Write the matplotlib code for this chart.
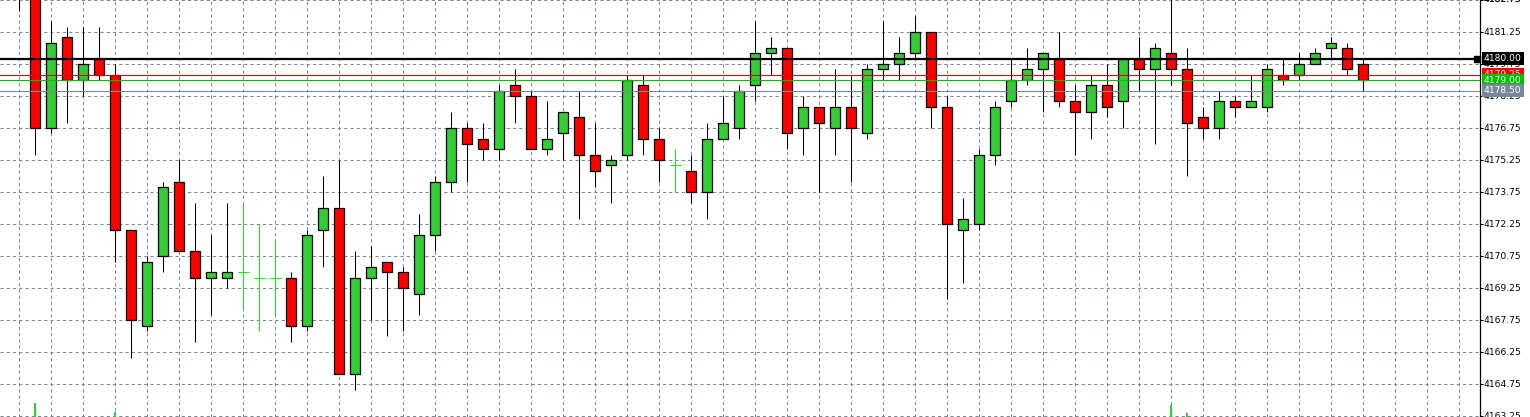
import numpy as np
import matplotlib
matplotlib.use('Agg')
import matplotlib.pyplot as plt

# OHLC candles (index 0 is the leftmost bar)
opens = [4183.25, 4183.0, 4176.75, 4181.0, 4179.0, 4180.0, 4179.25, 4172.0, 4167.5, 4170.75,
         4174.25, 4171.0, 4169.75, 4169.75, 4170.0, 4169.75, 4169.75, 4169.75, 4167.5, 4172.0,
         4173.0, 4165.25, 4169.75, 4170.5, 4170.0, 4169.0, 4171.75, 4174.25, 4176.75, 4176.25,
         4175.75, 4178.75, 4178.25, 4175.75, 4176.5, 4177.25, 4175.5, 4175.0, 4175.5, 4178.75,
         4176.25, 4175.0, 4174.75, 4173.75, 4176.25, 4176.75, 4178.75, 4180.25, 4180.5, 4176.75,
         4177.75, 4176.75, 4177.75, 4176.5, 4179.5, 4179.75, 4180.25, 4181.25, 4177.75, 4172.0,
         4172.25, 4175.5, 4178.0, 4179.0, 4179.5, 4180.0, 4178.0, 4177.5, 4178.75, 4178.0,
         4180.0, 4179.5, 4180.25, 4179.5, 4177.25, 4176.75, 4178.0, 4177.75, 4177.75, 4179.25,
         4179.25, 4179.75, 4180.5, 4180.5, 4179.75]
highs = [4183.5, 4183.5, 4181.75, 4181.5, 4181.5, 4181.5, 4179.75, 4172.0, 4170.75, 4174.25,
         4175.25, 4173.25, 4171.75, 4173.25, 4173.25, 4172.25, 4171.5, 4170.0, 4172.0, 4174.5,
         4175.25, 4171.0, 4171.25, 4170.5, 4170.25, 4172.75, 4174.5, 4177.5, 4177.0, 4177.0,
         4178.75, 4179.5, 4178.5, 4178.0, 4177.5, 4178.5, 4177.0, 4175.5, 4179.25, 4179.25,
         4176.75, 4175.75, 4175.5, 4177.0, 4178.25, 4178.75, 4181.75, 4181.0, 4180.5, 4178.25,
         4177.75, 4179.5, 4179.25, 4179.75, 4181.75, 4181.0, 4182.0, 4181.25, 4178.25, 4173.5,
         4175.75, 4178.0, 4180.0, 4180.5, 4180.25, 4181.25, 4178.75, 4179.25, 4179.75, 4180.0,
         4181.0, 4180.75, 4183.0, 4180.5, 4177.75, 4178.5, 4178.25, 4179.25, 4179.75, 4180.0,
         4180.25, 4180.5, 4181.0, 4180.75, 4180.0]
lows = [4182.25, 4175.5, 4176.5, 4177.0, 4178.25, 4179.0, 4170.5, 4166.0, 4167.25, 4170.0,
        4171.0, 4166.75, 4168.0, 4169.25, 4168.25, 4167.25, 4168.0, 4166.75, 4167.25, 4170.25,
        4165.25, 4164.5, 4167.75, 4167.0, 4167.25, 4168.0, 4171.0, 4173.75, 4174.25, 4175.25,
        4175.25, 4177.0, 4175.75, 4175.5, 4175.25, 4172.5, 4174.0, 4173.25, 4175.25, 4175.5,
        4174.25, 4173.75, 4173.25, 4172.5, 4176.25, 4176.25, 4178.0, 4179.25, 4175.75, 4175.5,
        4173.75, 4175.5, 4174.25, 4176.25, 4179.0, 4179.0, 4180.0, 4176.75, 4168.75, 4169.5,
        4172.0, 4175.0, 4177.75, 4178.75, 4177.5, 4177.75, 4175.5, 4176.25, 4177.25, 4176.75,
        4178.5, 4176.0, 4178.75, 4174.5, 4176.25, 4176.25, 4177.25, 4177.75, 4177.5, 4178.75,
        4179.0, 4179.75, 4180.0, 4179.25, 4178.5]
closes = [4183.0, 4176.75, 4180.75, 4179.0, 4179.75, 4179.25, 4172.0, 4167.75, 4170.5, 4174.0,
          4171.0, 4169.75, 4170.0, 4170.0, 4170.0, 4169.75, 4169.75, 4167.5, 4171.75, 4173.0,
          4165.25, 4169.75, 4170.25, 4170.0, 4169.25, 4171.75, 4174.25, 4176.75, 4176.0, 4175.75,
          4178.5, 4178.25, 4175.75, 4176.25, 4177.5, 4175.5, 4174.75, 4175.25, 4179.0, 4176.25,
          4175.25, 4175.0, 4173.75, 4176.25, 4177.0, 4178.5, 4180.25, 4180.5, 4176.5, 4177.75,
          4177.0, 4177.75, 4176.75, 4179.5, 4179.75, 4180.25, 4181.25, 4177.75, 4172.25, 4172.5,
          4175.5, 4177.75, 4179.0, 4179.5, 4180.25, 4178.0, 4177.5, 4178.75, 4177.75, 4180.0,
          4179.5, 4180.5, 4179.5, 4177.0, 4176.75, 4178.0, 4177.75, 4178.0, 4179.5, 4179.0,
          4179.75, 4180.25, 4180.75, 4179.5, 4179.0]

# small volume spikes in the bottom strip
vol_idx = [1, 6, 72, 73]
vol = [14, 5, 12, 4]

# horizontal price levels
hline_price = 4180.00
ask_price = 4179.25
bid_price = 4179.00
low_price = 4178.50

yticks = np.arange(4163.25, 4183.0, 1.5)

up_col = '#32CD32'
dn_col = '#FF0000'
doji_col = '#00FF00'
grid_col = '#778899'

fig = plt.figure(figsize=(15.3, 4.17), dpi=100)
ax = fig.add_axes([0, 0, 1480 / 1530, 1])
ax.set_xlim(-1.206, 91.29)
ax.set_ylim(4163.222, 4182.663)

x = np.arange(len(opens))
o = np.array(opens)
h = np.array(highs)
l = np.array(lows)
c = np.array(closes)

doji = o == c
up = (c > o)
dn = (c < o)

# wicks
ax.vlines(x[~doji], l[~doji], h[~doji], color='black', linewidth=0.75, zorder=2)
ax.vlines(x[doji], l[doji], h[doji], color=doji_col, linewidth=0.75, zorder=2)
ax.hlines(o[doji], x[doji] - 0.33, x[doji] + 0.33, color=doji_col, linewidth=0.75, zorder=2)

# bodies
w = 0.625
ax.bar(x[up], (c - o)[up], bottom=o[up], width=w, color=up_col,
       edgecolor='black', linewidth=0.9, zorder=3)
ax.bar(x[dn], (o - c)[dn], bottom=c[dn], width=w, color=dn_col,
       edgecolor='black', linewidth=0.9, zorder=3)

# level lines
ax.axhline(hline_price, color='black', linewidth=1.6, zorder=5)
ax.axhline(ask_price, color='#E00000', linewidth=0.75, zorder=5)
ax.axhline(bid_price, color='#00C000', linewidth=0.75, zorder=5)
ax.axhline(low_price, color=grid_col, linewidth=0.75, zorder=5)
ax.plot([1 - 3.5 / 1480], [hline_price], marker='s', markersize=5, color='black',
        transform=ax.get_yaxis_transform(), clip_on=False, zorder=6)

# grid
ax.set_yticks(yticks)
ax.set_xticks(np.arange(0, 92, 2))
ax.grid(True, color=grid_col, linestyle=(0, (3, 3)), linewidth=0.75, zorder=0)
ax.set_axisbelow(True)
ax.tick_params(axis='x', length=0, labelbottom=False)
ax.tick_params(axis='y', left=False, right=True, labelleft=False, labelright=False,
               length=2.5, width=0.75, color='black', direction='out')
for s in ['top', 'left', 'bottom']:
    ax.spines[s].set_visible(False)
ax.spines['right'].set_linewidth(0.9)

# price labels on the right
tr = ax.get_yaxis_transform()
for p in list(yticks) + [4182.75]:
    ax.text(1.0027, p, '%.2f' % p, transform=tr, fontsize=6.6, va='center', ha='left',
            clip_on=False, color='black')

for p, col in [(ask_price, '#FF0000'), (bid_price, '#00C000'), (low_price, grid_col),
               (hline_price, 'black')]:
    ax.text(1.0027, p, '%.2f' % p, transform=tr, fontsize=6.6, va='center', ha='left',
            color='white', clip_on=False, zorder=10,
            bbox=dict(boxstyle='square,pad=0.22', fc=col, ec='none'))

# volume strip at the bottom
vax = fig.add_axes([0, 0, 1480 / 1530, 30 / 417])
vax.set_xlim(ax.get_xlim())
vax.set_ylim(0, 30)
vax.bar(vol_idx, vol, width=0.12, color=up_col)
vax.axis('off')
vax.patch.set_alpha(0)

fig.savefig('out.png', dpi=100)
